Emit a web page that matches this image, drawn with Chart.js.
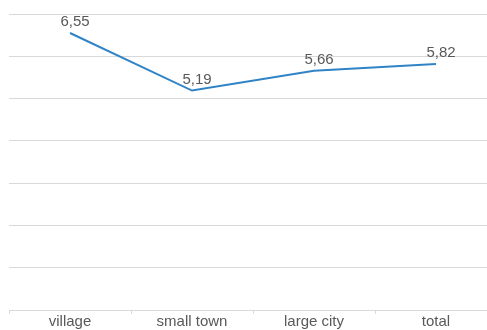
<!DOCTYPE html>
<html>
<head>
<meta charset="utf-8">
<script src="https://cdn.jsdelivr.net/npm/chart.js@4/dist/chart.umd.min.js"></script>
<style>
  html, body { margin: 0; padding: 0; background: #fff; overflow: hidden; }
  #wrap { width: 500px; height: 330px; }
</style>
</head>
<body>
<div id="wrap"><canvas id="myChart"></canvas></div>
<script>
// categories and values
const categories = ["village", "small town", "large city", "total"];
const values = [6.55, 5.19, 5.66, 5.82];
const yTicks = [0, 1, 2, 3, 4, 5, 6, 7];

const textColor = "#595959";
const gridColor = "#d9d9d9";

// value labels above each point, comma as decimal separator
const valueLabels = {
    id: "valueLabels",
    afterDatasetsDraw(chart) {
        const ctx = chart.ctx;
        const meta = chart.getDatasetMeta(0);
        ctx.save();
        ctx.font = "15px 'Liberation Sans', Arial, sans-serif";
        ctx.fillStyle = textColor;
        ctx.textAlign = "center";
        ctx.textBaseline = "alphabetic";
        meta.data.forEach((pt, i) => {
            const txt = values[i].toFixed(2).replace(".", ",");
            ctx.fillText(txt, pt.x + 5, pt.y - 7);
        });
        ctx.restore();
    }
};

const ctx = document.getElementById("myChart").getContext("2d");
new Chart(ctx, {
    type: "line",
    data: {
        labels: categories,
        datasets: [{
            data: values,
            borderColor: "#2f83c6",
            borderWidth: 2,
            pointRadius: 0,
            tension: 0,
            fill: false
        }]
    },
    options: {
        responsive: true,
        maintainAspectRatio: false,
        animation: false,
        layout: { padding: { left: 9, right: 3, top: 14, bottom: 0 } },
        plugins: { legend: { display: false }, tooltip: { enabled: false } },
        scales: {
            x: {
                offset: true,
                grid: {
                    offset: true,
                    drawOnChartArea: false,
                    drawTicks: true,
                    tickLength: 4,
                    color: gridColor
                },
                border: { color: gridColor, width: 1 },
                ticks: {
                    color: textColor,
                    padding: -1,
                    maxRotation: 0,
                    font: { family: "'Liberation Sans', Arial, sans-serif", size: 15, lineHeight: 1.2 }
                }
            },
            y: {
                min: yTicks[0],
                max: yTicks[yTicks.length - 1],
                afterBuildTicks(axis) {
                    axis.ticks = yTicks.map(v => ({ value: v }));
                },
                grid: { color: gridColor, drawTicks: false },
                border: { display: false },
                ticks: { display: false }
            }
        }
    },
    plugins: [valueLabels]
});
</script>
</body>
</html>
